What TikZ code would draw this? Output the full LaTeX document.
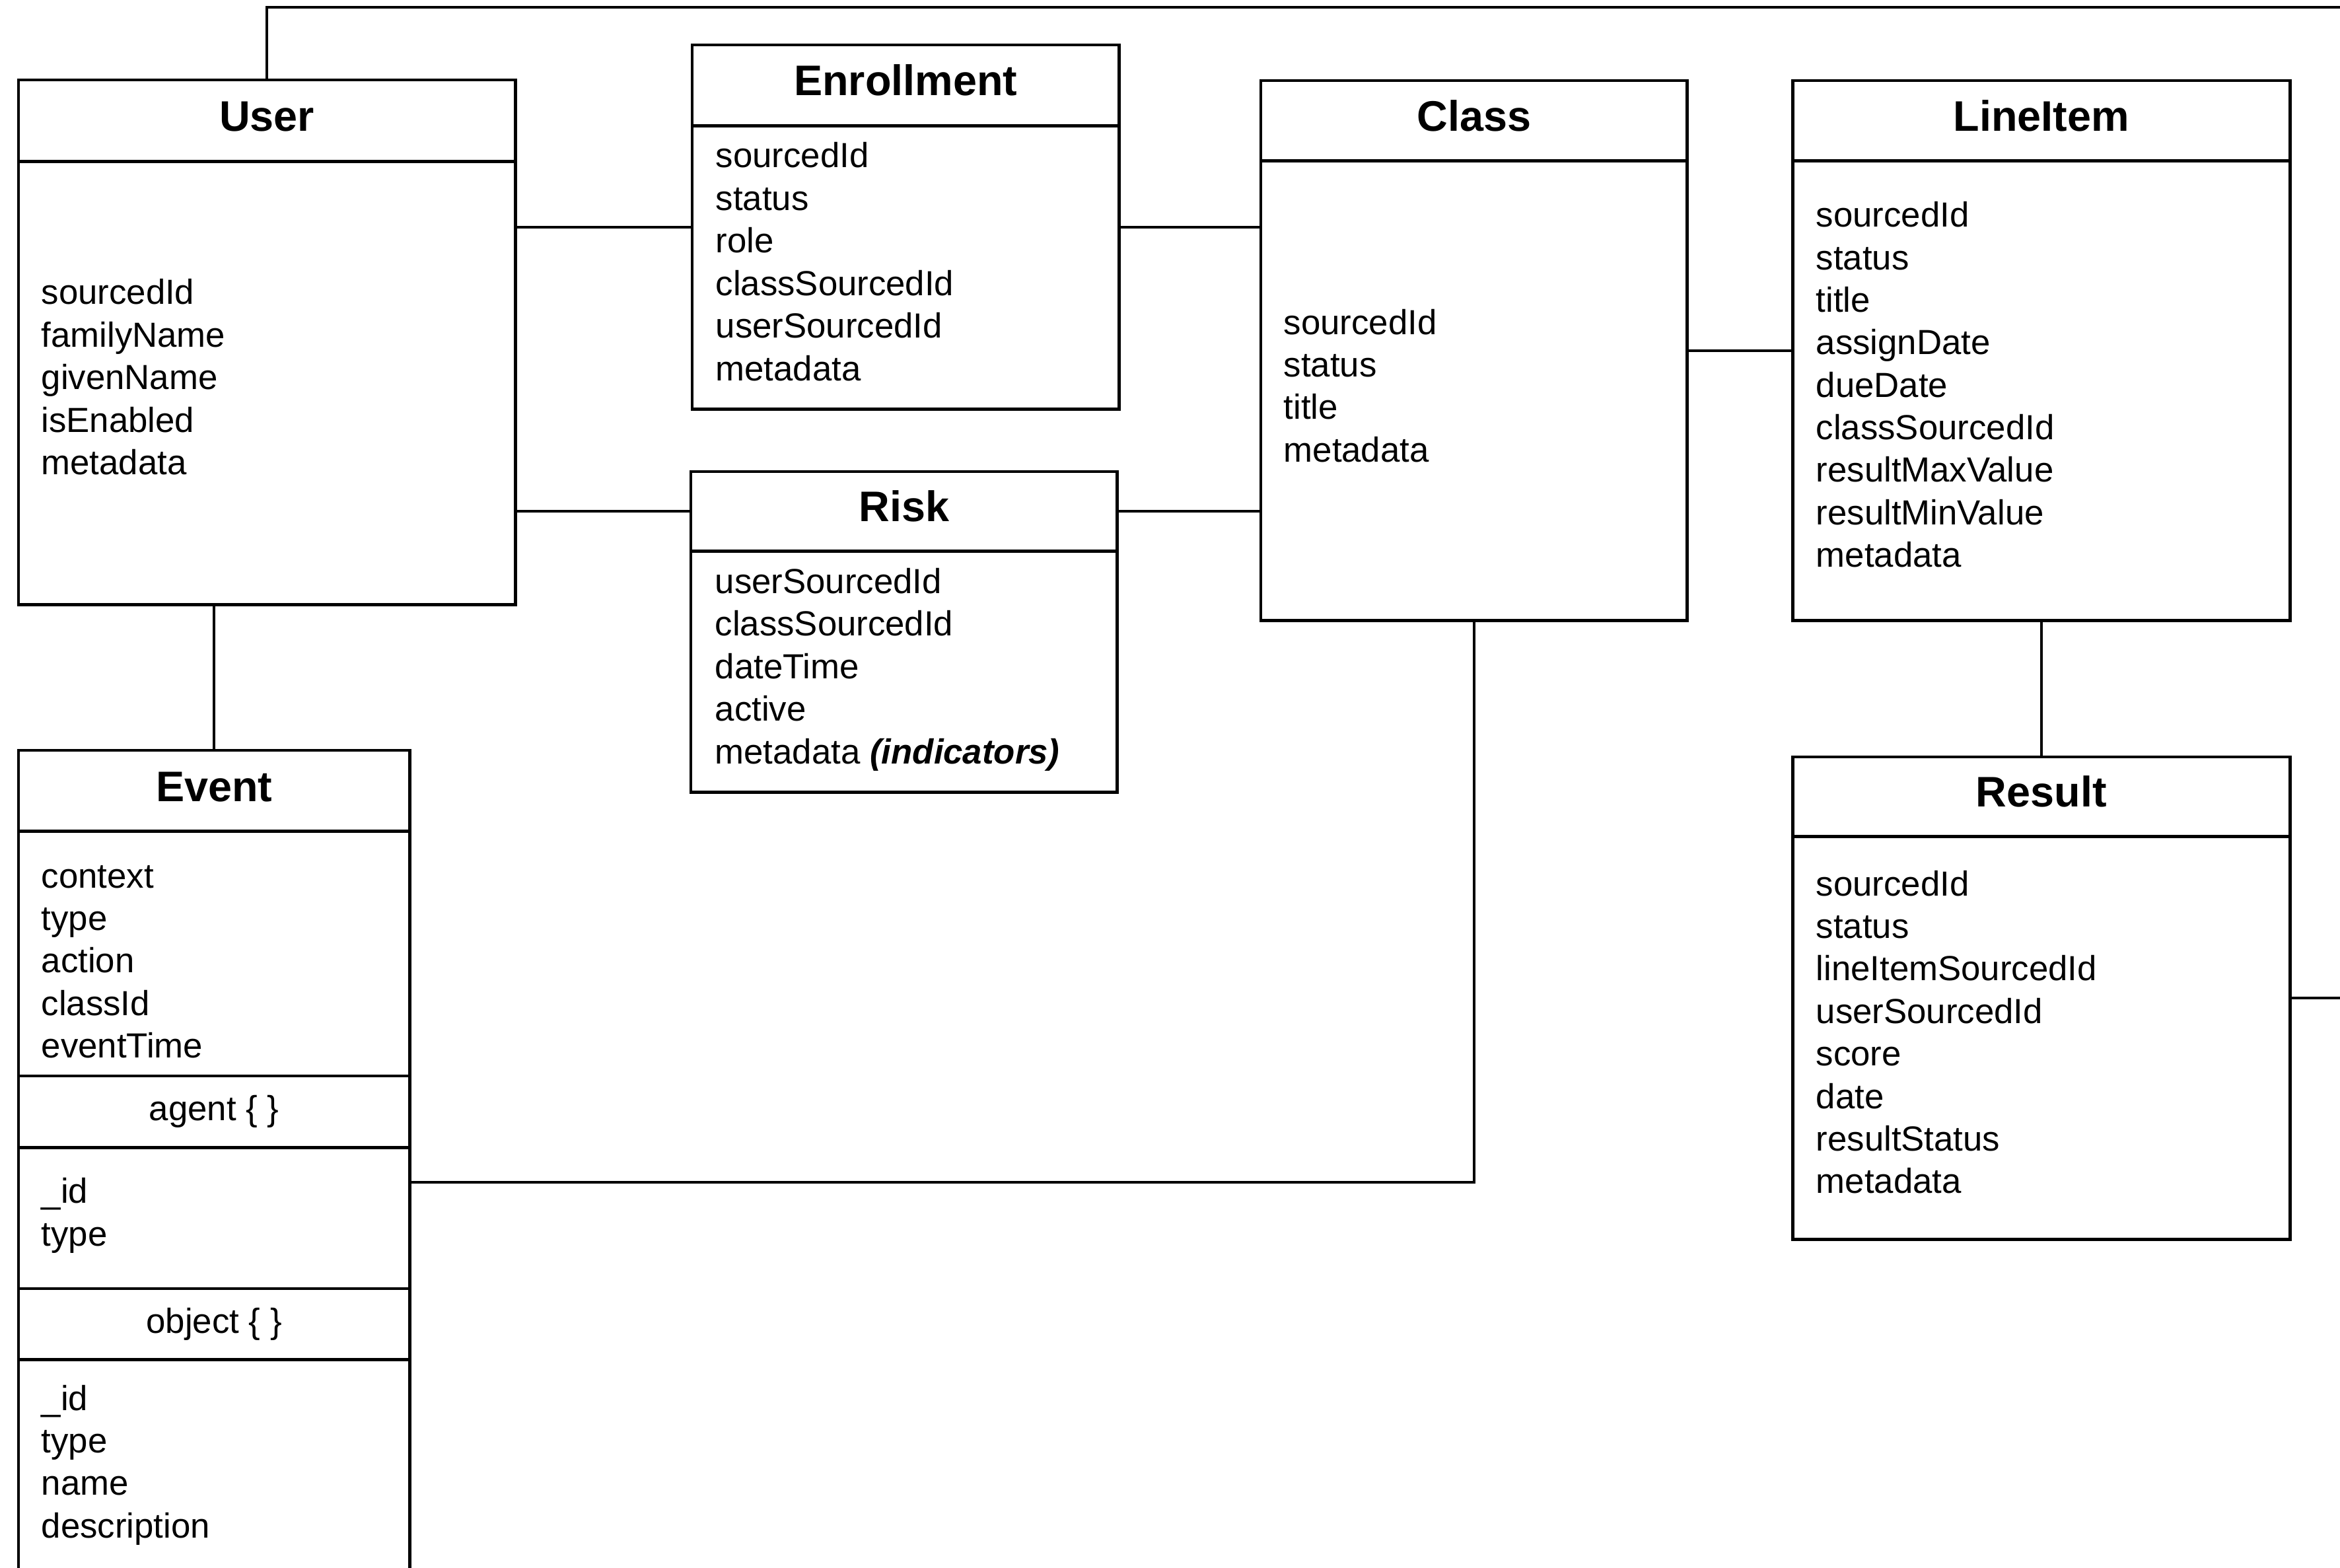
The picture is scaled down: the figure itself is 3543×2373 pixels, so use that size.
\documentclass[tikz,border=0pt]{standalone}
\usepackage{fontspec}
\setmainfont{Liberation Sans}
\usepackage{tikz}
\usetikzlibrary{positioning,calc}
\newcommand{\attrfont}{\fontsize{15pt}{18.3pt}\selectfont}
\newcommand{\headfont}{\fontsize{18.4pt}{22pt}\selectfont\bfseries}
\tikzset{
  entity/.style={draw=black,line width=1.4pt,rectangle,inner sep=0pt,outer sep=0pt,
    anchor=north west},
  part/.style={entity,font=\attrfont},
  title/.style={font=\headfont,anchor=base,inner sep=0pt},
  attr/.style={font=\attrfont,anchor=base west,inner sep=0pt},
  link/.style={draw=black,line width=1.1pt}
}

\begin{document}
\begin{tikzpicture}[x=0.01cm,y=-0.01cm]
  \useasboundingbox (0,0) rectangle (3543,2373);
  \clip (0,0) rectangle (3543,2373);

  % User
  \node[entity,minimum width=7.52cm,minimum height=7.94cm] (user) at (28,121) {};
  \node[part,minimum width=7.52cm,minimum height=1.23cm] (user-h) at (user.north west) {};
  \node[title] (user-t) at ([yshift=-0.77cm]user-h.north) {User};
  \foreach \f [count=\i from 0] in {sourcedId,familyName,givenName,isEnabled,metadata}
    \node[attr] (user-a\i) at (62,{461+64.4*\i}) {\f};

  % Enrollment
  \node[entity,minimum width=6.46cm,minimum height=5.51cm] (enrl) at (1048,68) {};
  \node[part,minimum width=6.46cm,minimum height=1.22cm] (enrl-h) at (enrl.north west) {};
  \node[title] (enrl-t) at ([yshift=-0.76cm]enrl-h.north) {Enrollment};
  \foreach \f [count=\i from 0] in {sourcedId,status,role,classSourcedId,userSourcedId,metadata}
    \node[attr] (enrl-a\i) at (1083,{254+64.4*\i}) {\f};

  % Risk
  \node[entity,minimum width=6.45cm,minimum height=4.85cm] (risk) at (1046,714) {};
  \node[part,minimum width=6.45cm,minimum height=1.20cm] (risk-h) at (risk.north west) {};
  \node[title] (risk-t) at ([yshift=-0.75cm]risk-h.north) {Risk};
  \foreach \f [count=\i from 0] in {userSourcedId,classSourcedId,dateTime,active,
      {metadata \textbf{\textit{(indicators)}}}}
    \node[attr] (risk-a\i) at (1082,{898+64.6*\i}) {\f};

  % Class
  \node[entity,minimum width=6.45cm,minimum height=8.17cm] (class) at (1909,122) {};
  \node[part,minimum width=6.45cm,minimum height=1.21cm] (class-h) at (class.north west) {};
  \node[title] (class-t) at ([yshift=-0.76cm]class-h.north) {Class};
  \foreach \f [count=\i from 0] in {sourcedId,status,title,metadata}
    \node[attr] (class-a\i) at (1943,{506+64.4*\i}) {\f};

  % LineItem
  \node[entity,minimum width=7.53cm,minimum height=8.17cm] (line) at (2714,122) {};
  \node[part,minimum width=7.53cm,minimum height=1.21cm] (line-h) at (line.north west) {};
  \node[title] (line-t) at ([yshift=-0.76cm]line-h.north) {LineItem};
  \foreach \f [count=\i from 0] in {sourcedId,status,title,assignDate,dueDate,
      classSourcedId,resultMaxValue,resultMinValue,metadata}
    \node[attr] (line-a\i) at (2749,{344+64.3*\i}) {\f};

  % Result
  \node[entity,minimum width=7.53cm,minimum height=7.30cm] (result) at (2714,1146) {};
  \node[part,minimum width=7.53cm,minimum height=1.20cm] (result-h) at (result.north west) {};
  \node[title] (result-t) at ([yshift=-0.75cm]result-h.north) {Result};
  \foreach \f [count=\i from 0] in {sourcedId,status,lineItemSourcedId,userSourcedId,
      score,date,resultStatus,metadata}
    \node[attr] (result-a\i) at (2749,{1356+64.4*\i}) {\f};

  % Event
  \node[entity,minimum width=5.92cm,minimum height=13.08cm] (event) at (28,1136) {};
  \node[part,minimum width=5.92cm,minimum height=1.22cm] (event-h) at (event.north west) {};
  \node[title] (event-t) at ([yshift=-0.77cm]event-h.north) {Event};
  \foreach \f [count=\i from 0] in {context,type,action,classId,eventTime}
    \node[attr] (event-a\i) at (62,{1344+64.4*\i}) {\f};
  \node[part,minimum width=5.92cm,minimum height=1.08cm] (event-ag) at (28,1629) {agent \{ \}};
  \foreach \f [count=\i from 0] in {\_id,type}
    \node[attr] (event-g\i) at (62,{1821+65*\i}) {\f};
  \node[part,minimum width=5.92cm,minimum height=1.07cm] (event-ob) at (28,1951) {object \{ \}};
  \foreach \f [count=\i from 0] in {\_id,type,name,description}
    \node[attr] (event-o\i) at (62,{2135+64.4*\i}) {\f};

  % connectors
  \coordinate (top-end) at (3560,11);
  \coordinate (res-end) at (3560,0);
  \draw[link] (user.north) |- (top-end);
  \draw[link] (user.east |- enrl.west) -- (enrl.west);
  \draw[link] (user.east |- risk-h.west) -- (risk-h.west);
  \draw[link] (enrl.east) -- (enrl.east -| class.west);
  \draw[link] (risk-h.east) -- (risk-h.east -| class.west);
  \draw[link] (class.east) -- (class.east -| line.west);
  \draw[link] (line.south) -- (result.north);
  \draw[link] (user.south -| event.north) -- (event.north);
  \draw[link] (class.south) |- (event.east);
  \draw[link] (result.east) -- (result.east -| res-end);
\end{tikzpicture}
\end{document}
